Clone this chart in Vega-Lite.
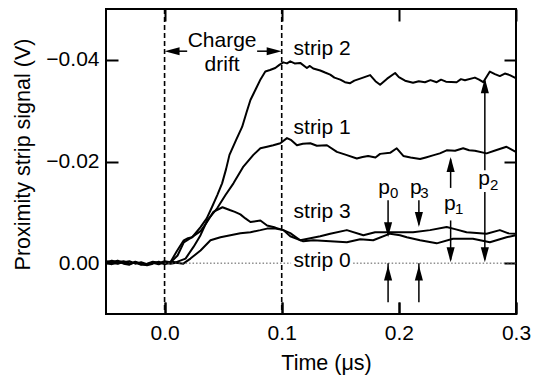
{
  "$schema": "https://vega.github.io/schema/vega-lite/v6.json",
  "width": 410,
  "height": 305,
  "autosize": "none",
  "padding": {"left": 106, "top": 9, "right": 23, "bottom": 62},
  "background": "white",
  "config": {
    "font": "Liberation Sans",
    "view": {"stroke": "black", "strokeWidth": 2}
  },
  "datasets": {
    "traces": [
      {"s":"strip 2","t":-0.05,"v":-0.0004},{"s":"strip 2","t":-0.045,"v":-0.0002},{"s":"strip 2","t":-0.04,"v":-0.0005},{"s":"strip 2","t":-0.035,"v":-0.0001},{"s":"strip 2","t":-0.03,"v":0.0002},{"s":"strip 2","t":-0.025,"v":-0.0003},{"s":"strip 2","t":-0.02,"v":0.0001},{"s":"strip 2","t":-0.015,"v":0.0003},{"s":"strip 2","t":-0.01,"v":-0.0002},{"s":"strip 2","t":-0.005,"v":0.0},{"s":"strip 2","t":0,"v":-0.0004},{"s":"strip 2","t":0.005,"v":-0.0002},{"s":"strip 2","t":0.0108,"v":-0.0025},{"s":"strip 2","t":0.0164,"v":-0.0045},{"s":"strip 2","t":0.02,"v":-0.0049},{"s":"strip 2","t":0.0236,"v":-0.0051},{"s":"strip 2","t":0.0307,"v":-0.0071},{"s":"strip 2","t":0.036,"v":-0.0088},{"s":"strip 2","t":0.0406,"v":-0.0111},{"s":"strip 2","t":0.045,"v":-0.0134},{"s":"strip 2","t":0.0491,"v":-0.0157},{"s":"strip 2","t":0.0525,"v":-0.0185},{"s":"strip 2","t":0.0554,"v":-0.0213},{"s":"strip 2","t":0.061,"v":-0.0242},{"s":"strip 2","t":0.0662,"v":-0.0268},{"s":"strip 2","t":0.07,"v":-0.0297},{"s":"strip 2","t":0.0733,"v":-0.0321},{"s":"strip 2","t":0.078,"v":-0.0343},{"s":"strip 2","t":0.082,"v":-0.0362},{"s":"strip 2","t":0.086,"v":-0.0377},{"s":"strip 2","t":0.09,"v":-0.038},{"s":"strip 2","t":0.0945,"v":-0.0384},{"s":"strip 2","t":0.098,"v":-0.039},{"s":"strip 2","t":0.1014,"v":-0.0395},{"s":"strip 2","t":0.1045,"v":-0.0393},{"s":"strip 2","t":0.1073,"v":-0.0397},{"s":"strip 2","t":0.111,"v":-0.0393},{"s":"strip 2","t":0.1158,"v":-0.0394},{"s":"strip 2","t":0.1215,"v":-0.0384},{"s":"strip 2","t":0.124,"v":-0.0388},{"s":"strip 2","t":0.1269,"v":-0.0383},{"s":"strip 2","t":0.1329,"v":-0.0379},{"s":"strip 2","t":0.137,"v":-0.0375},{"s":"strip 2","t":0.1414,"v":-0.0371},{"s":"strip 2","t":0.145,"v":-0.0365},{"s":"strip 2","t":0.15,"v":-0.0361},{"s":"strip 2","t":0.154,"v":-0.0356},{"s":"strip 2","t":0.1584,"v":-0.0354},{"s":"strip 2","t":0.162,"v":-0.0359},{"s":"strip 2","t":0.167,"v":-0.0363},{"s":"strip 2","t":0.1755,"v":-0.037},{"s":"strip 2","t":0.18,"v":-0.0358},{"s":"strip 2","t":0.184,"v":-0.0351},{"s":"strip 2","t":0.19,"v":-0.0363},{"s":"strip 2","t":0.1968,"v":-0.0374},{"s":"strip 2","t":0.2,"v":-0.0366},{"s":"strip 2","t":0.2053,"v":-0.0359},{"s":"strip 2","t":0.2121,"v":-0.0355},{"s":"strip 2","t":0.217,"v":-0.0358},{"s":"strip 2","t":0.2223,"v":-0.0356},{"s":"strip 2","t":0.227,"v":-0.036},{"s":"strip 2","t":0.2323,"v":-0.0356},{"s":"strip 2","t":0.236,"v":-0.0361},{"s":"strip 2","t":0.2402,"v":-0.0357},{"s":"strip 2","t":0.2493,"v":-0.0356},{"s":"strip 2","t":0.253,"v":-0.0362},{"s":"strip 2","t":0.2564,"v":-0.036},{"s":"strip 2","t":0.2649,"v":-0.0365},{"s":"strip 2","t":0.2685,"v":-0.0361},{"s":"strip 2","t":0.272,"v":-0.0356},{"s":"strip 2","t":0.2777,"v":-0.0377},{"s":"strip 2","t":0.282,"v":-0.0372},{"s":"strip 2","t":0.2862,"v":-0.0368},{"s":"strip 2","t":0.2905,"v":-0.0373},{"s":"strip 2","t":0.2947,"v":-0.037},{"s":"strip 2","t":0.2998,"v":-0.0364},
      {"s":"strip 1","t":-0.05,"v":-0.0002},{"s":"strip 1","t":-0.045,"v":-0.0005},{"s":"strip 1","t":-0.04,"v":-0.0002},{"s":"strip 1","t":-0.035,"v":-0.0004},{"s":"strip 1","t":-0.03,"v":0.0},{"s":"strip 1","t":-0.025,"v":-0.0001},{"s":"strip 1","t":-0.02,"v":0.0003},{"s":"strip 1","t":-0.015,"v":0.0001},{"s":"strip 1","t":-0.01,"v":-0.0003},{"s":"strip 1","t":-0.005,"v":-0.0001},{"s":"strip 1","t":0,"v":0.0001},{"s":"strip 1","t":0.005,"v":-0.0003},{"s":"strip 1","t":0.01,"v":-0.0002},{"s":"strip 1","t":0.0179,"v":-0.0009},{"s":"strip 1","t":0.0247,"v":-0.0032},{"s":"strip 1","t":0.0307,"v":-0.0055},{"s":"strip 1","t":0.0364,"v":-0.0084},{"s":"strip 1","t":0.0449,"v":-0.0108},{"s":"strip 1","t":0.052,"v":-0.0134},{"s":"strip 1","t":0.0588,"v":-0.0157},{"s":"strip 1","t":0.0673,"v":-0.019},{"s":"strip 1","t":0.0758,"v":-0.0213},{"s":"strip 1","t":0.0818,"v":-0.0226},{"s":"strip 1","t":0.0875,"v":-0.0229},{"s":"strip 1","t":0.0928,"v":-0.0232},{"s":"strip 1","t":0.0988,"v":-0.0236},{"s":"strip 1","t":0.1045,"v":-0.0246},{"s":"strip 1","t":0.1082,"v":-0.0242},{"s":"strip 1","t":0.113,"v":-0.0232},{"s":"strip 1","t":0.118,"v":-0.0235},{"s":"strip 1","t":0.1244,"v":-0.0236},{"s":"strip 1","t":0.13,"v":-0.0231},{"s":"strip 1","t":0.1386,"v":-0.0232},{"s":"strip 1","t":0.1471,"v":-0.0219},{"s":"strip 1","t":0.155,"v":-0.0213},{"s":"strip 1","t":0.1641,"v":-0.0206},{"s":"strip 1","t":0.169,"v":-0.0209},{"s":"strip 1","t":0.1738,"v":-0.0211},{"s":"strip 1","t":0.18,"v":-0.0208},{"s":"strip 1","t":0.184,"v":-0.0215},{"s":"strip 1","t":0.1925,"v":-0.0217},{"s":"strip 1","t":0.1982,"v":-0.0226},{"s":"strip 1","t":0.2038,"v":-0.0211},{"s":"strip 1","t":0.21,"v":-0.0208},{"s":"strip 1","t":0.2181,"v":-0.0205},{"s":"strip 1","t":0.223,"v":-0.0208},{"s":"strip 1","t":0.2291,"v":-0.0212},{"s":"strip 1","t":0.235,"v":-0.0216},{"s":"strip 1","t":0.2408,"v":-0.0222},{"s":"strip 1","t":0.248,"v":-0.0221},{"s":"strip 1","t":0.2549,"v":-0.0226},{"s":"strip 1","t":0.26,"v":-0.0222},{"s":"strip 1","t":0.2649,"v":-0.0221},{"s":"strip 1","t":0.2749,"v":-0.0216},{"s":"strip 1","t":0.2828,"v":-0.0222},{"s":"strip 1","t":0.2919,"v":-0.0229},{"s":"strip 1","t":0.2998,"v":-0.0219},
      {"s":"strip 3","t":-0.05,"v":-0.0001},{"s":"strip 3","t":-0.045,"v":0.0002},{"s":"strip 3","t":-0.04,"v":-0.0003},{"s":"strip 3","t":-0.035,"v":0.0001},{"s":"strip 3","t":-0.03,"v":0.0003},{"s":"strip 3","t":-0.025,"v":-0.0002},{"s":"strip 3","t":-0.02,"v":0.0002},{"s":"strip 3","t":-0.015,"v":0.0004},{"s":"strip 3","t":-0.01,"v":0.0001},{"s":"strip 3","t":-0.005,"v":-0.0003},{"s":"strip 3","t":0,"v":0.0002},{"s":"strip 3","t":0.005,"v":-0.0001},{"s":"strip 3","t":0.0111,"v":-0.0015},{"s":"strip 3","t":0.0164,"v":-0.0041},{"s":"strip 3","t":0.0221,"v":-0.0049},{"s":"strip 3","t":0.0307,"v":-0.0063},{"s":"strip 3","t":0.036,"v":-0.008},{"s":"strip 3","t":0.0417,"v":-0.0101},{"s":"strip 3","t":0.0494,"v":-0.011},{"s":"strip 3","t":0.0562,"v":-0.0104},{"s":"strip 3","t":0.06,"v":-0.0101},{"s":"strip 3","t":0.0647,"v":-0.0096},{"s":"strip 3","t":0.069,"v":-0.0088},{"s":"strip 3","t":0.0733,"v":-0.0081},{"s":"strip 3","t":0.0818,"v":-0.0084},{"s":"strip 3","t":0.0875,"v":-0.0074},{"s":"strip 3","t":0.0945,"v":-0.007},{"s":"strip 3","t":0.1014,"v":-0.0065},{"s":"strip 3","t":0.1073,"v":-0.0053},{"s":"strip 3","t":0.1184,"v":-0.0043},{"s":"strip 3","t":0.1269,"v":-0.0045},{"s":"strip 3","t":0.1414,"v":-0.0043},{"s":"strip 3","t":0.1556,"v":-0.0041},{"s":"strip 3","t":0.167,"v":-0.0047},{"s":"strip 3","t":0.1781,"v":-0.0045},{"s":"strip 3","t":0.1925,"v":-0.0058},{"s":"strip 3","t":0.201,"v":-0.0055},{"s":"strip 3","t":0.2068,"v":-0.0051},{"s":"strip 3","t":0.2181,"v":-0.0045},{"s":"strip 3","t":0.2323,"v":-0.0039},{"s":"strip 3","t":0.2462,"v":-0.0048},{"s":"strip 3","t":0.2632,"v":-0.0048},{"s":"strip 3","t":0.2777,"v":-0.0041},{"s":"strip 3","t":0.2919,"v":-0.0051},{"s":"strip 3","t":0.2998,"v":-0.0055},
      {"s":"strip 0","t":-0.05,"v":0.0001},{"s":"strip 0","t":-0.045,"v":-0.0003},{"s":"strip 0","t":-0.04,"v":0.0001},{"s":"strip 0","t":-0.035,"v":-0.0002},{"s":"strip 0","t":-0.03,"v":-0.0004},{"s":"strip 0","t":-0.025,"v":0.0001},{"s":"strip 0","t":-0.02,"v":-0.0002},{"s":"strip 0","t":-0.015,"v":0.0002},{"s":"strip 0","t":-0.01,"v":-0.0001},{"s":"strip 0","t":-0.005,"v":0.0002},{"s":"strip 0","t":0,"v":-0.0002},{"s":"strip 0","t":0.005,"v":0.0001},{"s":"strip 0","t":0.01,"v":-0.0001},{"s":"strip 0","t":0.016,"v":0.0001},{"s":"strip 0","t":0.0221,"v":-0.0009},{"s":"strip 0","t":0.0307,"v":-0.0025},{"s":"strip 0","t":0.0392,"v":-0.0045},{"s":"strip 0","t":0.0477,"v":-0.0051},{"s":"strip 0","t":0.0562,"v":-0.0055},{"s":"strip 0","t":0.0647,"v":-0.0059},{"s":"strip 0","t":0.0733,"v":-0.0061},{"s":"strip 0","t":0.0818,"v":-0.0065},{"s":"strip 0","t":0.0875,"v":-0.0068},{"s":"strip 0","t":0.0945,"v":-0.0068},{"s":"strip 0","t":0.1014,"v":-0.0065},{"s":"strip 0","t":0.1073,"v":-0.0059},{"s":"strip 0","t":0.1158,"v":-0.0045},{"s":"strip 0","t":0.1244,"v":-0.0049},{"s":"strip 0","t":0.1329,"v":-0.0053},{"s":"strip 0","t":0.1414,"v":-0.0058},{"s":"strip 0","t":0.1556,"v":-0.0065},{"s":"strip 0","t":0.1697,"v":-0.0055},{"s":"strip 0","t":0.1797,"v":-0.0061},{"s":"strip 0","t":0.1925,"v":-0.0061},{"s":"strip 0","t":0.2121,"v":-0.0061},{"s":"strip 0","t":0.2266,"v":-0.0065},{"s":"strip 0","t":0.2408,"v":-0.0071},{"s":"strip 0","t":0.2479,"v":-0.0067},{"s":"strip 0","t":0.2578,"v":-0.0061},{"s":"strip 0","t":0.2749,"v":-0.0058},{"s":"strip 0","t":0.2862,"v":-0.0065},{"s":"strip 0","t":0.293,"v":-0.0059},{"s":"strip 0","t":0.2998,"v":-0.0058}
    ],
    "vlines": [{"t": 0}, {"t": 0.1}],
    "zeroline": [{"t": 0, "t2": 0.108, "v": 0}, {"t": 0.161, "t2": 0.3, "v": 0}],
    "vshafts": [
      {"t": 0.1908, "v": -0.0124, "v2": -0.0056},
      {"t": 0.2171, "v": -0.0124, "v2": -0.0076},
      {"t": 0.1908, "v": 0.0077, "v2": 0.0},
      {"t": 0.2171, "v": 0.0077, "v2": 0.0},
      {"t": 0.2442, "v": -0.0148, "v2": -0.0204},
      {"t": 0.2442, "v": -0.0084, "v2": -0.0007},
      {"t": 0.2734, "v": -0.0183, "v2": -0.0359},
      {"t": 0.2734, "v": -0.014, "v2": -0.0007}
    ],
    "hshafts": [
      {"t": 0.004, "t2": 0.0193, "v": -0.0417},
      {"t": 0.079, "t2": 0.096, "v": -0.0417}
    ],
    "heads": [
      {"t": 0.1908, "v": -0.0051, "d": "down"},
      {"t": 0.2171, "v": -0.0071, "d": "down"},
      {"t": 0.1908, "v": 0.00045, "d": "up"},
      {"t": 0.2171, "v": 0.00045, "d": "up"},
      {"t": 0.2442, "v": -0.0209, "d": "up"},
      {"t": 0.2442, "v": -0.0002, "d": "down"},
      {"t": 0.2734, "v": -0.0364, "d": "up"},
      {"t": 0.2734, "v": -0.0002, "d": "down"},
      {"t": 0.0, "v": -0.0417, "d": "left"},
      {"t": 0.1, "v": -0.0417, "d": "right"}
    ],
    "leftlabels": [
      {"t": 0.1101, "v": -0.041, "label": "strip 2"},
      {"t": 0.1101, "v": -0.0255, "label": "strip 1"},
      {"t": 0.1101, "v": -0.0088, "label": "strip 3"},
      {"t": 0.1101, "v": 0.0008, "label": "strip 0"},
      {"t": 0.1825, "v": -0.0137, "label": "p"},
      {"t": 0.2095, "v": -0.0137, "label": "p"},
      {"t": 0.2385, "v": -0.0104, "label": "p"},
      {"t": 0.2678, "v": -0.0153, "label": "p"},
      {"t": 0.1925, "v": -0.0128, "sub": "0"},
      {"t": 0.2182, "v": -0.0128, "sub": "3"},
      {"t": 0.2479, "v": -0.0096, "sub": "1"},
      {"t": 0.2777, "v": -0.0143, "sub": "2"}
    ],
    "center": [
      {"t": 0.0491, "v": -0.0426, "label": "Charge"},
      {"t": 0.0491, "v": -0.0378, "label": "drift"}
    ]
  },
  "layer": [
    {
      "data": {"name": "traces"},
      "mark": {"type": "line", "color": "black", "strokeWidth": 2, "strokeJoin": "round"},
      "encoding": {
        "x": {"field": "t", "type": "quantitative",
              "scale": {"domain": [-0.05, 0.3], "nice": false, "zero": false},
              "axis": {"orient": "bottom", "values": [0, 0.1, 0.2, 0.3], "format": ".1f",
                       "grid": false, "domain": false, "offset": -12, "ticks": true, "tickSize": 12, "tickWidth": 2, "tickColor": "black",
                       "labelPadding": 8, "labelFontSize": 21, "labelColor": "black", "labelFont": "Liberation Sans", "labelFlush": false,
                       "title": "Time (μs)", "titleFont": "Liberation Sans", "titleFontSize": 21.5, "titleFontWeight": "normal", "titleColor": "black",
                       "titleX": 220, "titleY": 67, "titleBaseline": "alphabetic", "titleAnchor": null, "titleAlign": "center"}},
        "y": {"field": "v", "type": "quantitative",
              "scale": {"domain": [-0.05, 0.01], "nice": false, "zero": false, "reverse": true},
              "axis": {"orient": "left", "values": [-0.04, -0.02, 0], "format": ".2f",
                       "grid": false, "domain": false, "offset": -12, "ticks": true, "tickSize": 12, "tickWidth": 2, "tickColor": "black",
                       "labelPadding": 7, "labelFontSize": 21, "labelColor": "black", "labelFont": "Liberation Sans",
                       "title": "Proximity strip signal (V)", "titleFont": "Liberation Sans", "titleFontSize": 21.5, "titleFontWeight": "normal", "titleColor": "black",
                       "titleX": -84, "titleY": 145, "titleAngle": -90,
                       "titleBaseline": "bottom", "titleAlign": "center", "titleAnchor": null}},
        "detail": {"field": "s", "type": "nominal"}
      }
    },
    {
      "data": {"name": "vlines"},
      "mark": {"type": "rule", "color": "black", "strokeWidth": 1.6, "strokeDash": [5, 3]},
      "encoding": {
        "x": {"field": "t", "type": "quantitative", "axis": null}
      }
    },
    {
      "data": {"name": "zeroline"},
      "mark": {"type": "rule", "color": "#555555", "strokeWidth": 1, "strokeDash": [1.5, 2]},
      "encoding": {
        "x": {"field": "t", "type": "quantitative", "axis": null},
        "x2": {"field": "t2"},
        "y": {"field": "v", "type": "quantitative", "axis": null}
      }
    },
    {
      "data": {"name": "vshafts"},
      "mark": {"type": "rule", "color": "black", "strokeWidth": 1.5},
      "encoding": {
        "x": {"field": "t", "type": "quantitative",
              "axis": {"orient": "bottom", "values": [0, 0.1, 0.2, 0.3], "labels": false, "title": null,
                       "grid": false, "domain": false, "offset": -12, "ticks": true, "tickSize": 12, "tickWidth": 2, "tickColor": "black"}},
        "y": {"field": "v", "type": "quantitative", "axis": null},
        "y2": {"field": "v2"}
      }
    },
    {
      "data": {"name": "hshafts"},
      "mark": {"type": "rule", "color": "black", "strokeWidth": 1.5},
      "encoding": {
        "x": {"field": "t", "type": "quantitative", "axis": null},
        "x2": {"field": "t2"},
        "y": {"field": "v", "type": "quantitative", "axis": null}
      }
    },
    {
      "data": {"name": "heads"},
      "mark": {"type": "point", "filled": true, "color": "black", "opacity": 1, "size": 900, "strokeWidth": 0},
      "encoding": {
        "x": {"field": "t", "type": "quantitative",
              "axis": {"orient": "top", "values": [0, 0.1, 0.2, 0.3], "labels": false, "title": null,
                       "grid": false, "domain": false, "offset": -12, "ticks": true, "tickSize": 12, "tickWidth": 2, "tickColor": "black"}},
        "y": {"field": "v", "type": "quantitative",
              "axis": {"orient": "right", "values": [-0.04, -0.02, 0], "labels": false, "title": null,
                       "grid": false, "domain": false, "offset": -12, "ticks": true, "tickSize": 12, "tickWidth": 2, "tickColor": "black"}},
        "shape": {"field": "d", "type": "nominal", "legend": null,
                  "scale": {"domain": ["up", "down", "left", "right"],
                            "range": ["M0,0L-0.27,1L0.27,1Z", "M0,0L-0.27,-1L0.27,-1Z", "M0,0L1,-0.27L1,0.27Z", "M0,0L-1,-0.27L-1,0.27Z"]}}
      }
    },
    {
      "data": {"name": "leftlabels"},
      "transform": [{"filter": "datum.label != null"}],
      "mark": {"type": "text", "align": "left", "baseline": "alphabetic", "fontSize": 21, "color": "black"},
      "encoding": {
        "x": {"field": "t", "type": "quantitative", "axis": null},
        "y": {"field": "v", "type": "quantitative", "axis": null},
        "text": {"field": "label"}
      }
    },
    {
      "data": {"name": "leftlabels"},
      "transform": [{"filter": "datum.sub != null"}],
      "mark": {"type": "text", "align": "left", "baseline": "alphabetic", "fontSize": 15, "color": "black"},
      "encoding": {
        "x": {"field": "t", "type": "quantitative", "axis": null},
        "y": {"field": "v", "type": "quantitative", "axis": null},
        "text": {"field": "sub"}
      }
    },
    {
      "data": {"name": "center"},
      "mark": {"type": "text", "align": "center", "baseline": "alphabetic", "fontSize": 21, "color": "black"},
      "encoding": {
        "x": {"field": "t", "type": "quantitative", "axis": null},
        "y": {"field": "v", "type": "quantitative", "axis": null},
        "text": {"field": "label"}
      }
    }
  ],
  "resolve": {"axis": {"x": "independent", "y": "independent"}}
}
